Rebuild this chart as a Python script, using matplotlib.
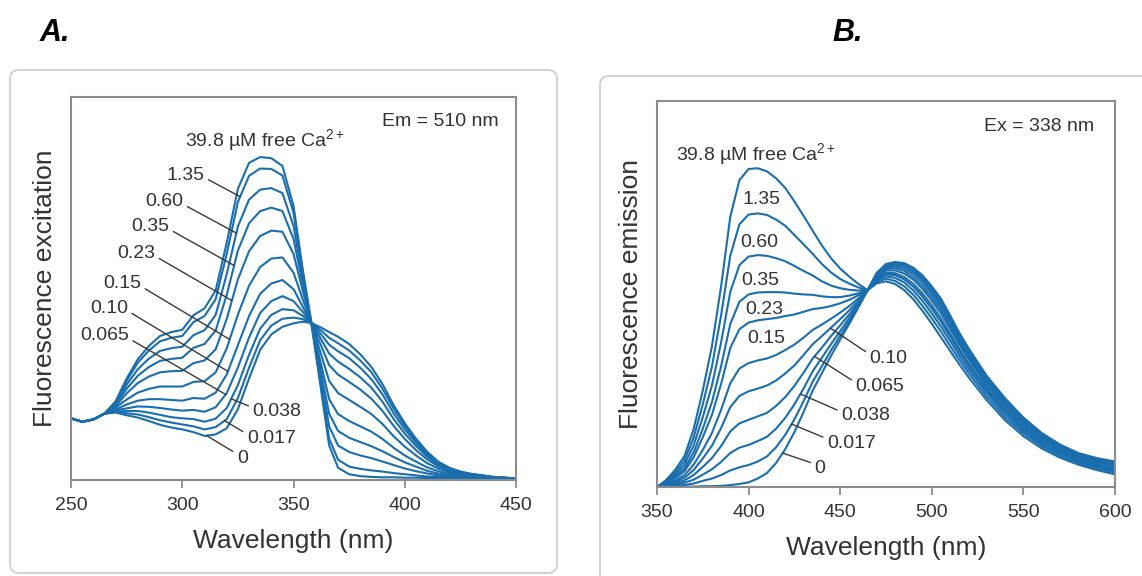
import matplotlib
matplotlib.use('Agg')
import matplotlib.pyplot as plt
import numpy as np
from matplotlib.patches import FancyBboxPatch
from matplotlib.transforms import IdentityTransform

plt.rcParams['font.family'] = ['Liberation Sans', 'DejaVu Sans']
plt.rcParams['mathtext.fontset'] = 'custom'
plt.rcParams['mathtext.rm'] = 'Liberation Sans'

BLUE = '#1a6eae'
TEXT = '#333333'
SPINE = '#8c8c8c'

# ---- Panel A: excitation spectra, Em = 510 nm ----
wl_a = [250, 255, 260, 265, 270, 275, 280, 285, 290, 295, 300, 305, 310, 315, 320,
        325, 330, 335, 340, 345, 350, 354, 358, 362, 366, 370, 375, 380, 385, 390,
        395, 400, 405, 410, 415, 420, 425, 430, 440, 450]

exc_398 = [16.1, 15.2, 15.8, 17.3, 20.5, 26.5, 31.5, 35.0, 37.6, 38.6, 39.2, 43.0, 44.8, 49.5, 62.0,
           76.0, 82.8, 84.3, 84.0, 82.0, 71.5, 55.5, 41.0, 25.0, 9.0, 3.2, 1.5, 1.0, 0.8, 0.7,
           0.7, 0.6, 0.6, 0.5, 0.5, 0.5, 0.4, 0.4, 0.3, 0.3]
exc_135 = [16.1, 15.2, 15.8, 17.3, 20.3, 25.9, 30.6, 33.8, 36.2, 37.1, 37.6, 41.2, 42.8, 47.2, 59.1,
           72.6, 79.4, 81.3, 81.2, 79.5, 69.7, 54.7, 41.0, 25.9, 10.8, 5.3, 3.5, 2.9, 2.5, 2.2,
           1.8, 1.5, 1.2, 0.9, 0.8, 0.7, 0.5, 0.5, 0.3, 0.3]
exc_060 = [16.1, 15.2, 15.8, 17.3, 20.0, 24.9, 28.9, 31.7, 33.7, 34.4, 34.8, 37.8, 39.1, 43.1, 53.8,
           66.2, 73.2, 75.8, 76.2, 74.9, 66.3, 53.1, 41.0, 27.5, 14.0, 9.0, 7.3, 6.4, 5.7, 4.8,
           3.9, 3.0, 2.3, 1.7, 1.2, 1.0, 0.7, 0.6, 0.4, 0.3]
exc_035 = [16.1, 15.2, 15.8, 17.3, 19.7, 23.8, 27.2, 29.5, 31.1, 31.6, 31.9, 34.5, 35.5, 39.0, 48.4,
           59.9, 67.0, 70.2, 71.1, 70.2, 62.9, 51.5, 41.0, 29.2, 17.3, 12.8, 11.0, 9.9, 8.8, 7.5,
           6.0, 4.6, 3.5, 2.4, 1.7, 1.3, 0.9, 0.7, 0.4, 0.3]
exc_023 = [16.1, 15.2, 15.8, 17.3, 19.3, 22.6, 25.3, 27.0, 28.1, 28.4, 28.5, 30.5, 31.2, 34.1, 42.1,
           52.4, 59.7, 63.7, 65.1, 64.8, 59.0, 49.7, 41.0, 31.1, 21.1, 17.2, 15.4, 14.0, 12.6, 10.7,
           8.4, 6.4, 4.8, 3.3, 2.3, 1.6, 1.1, 0.9, 0.5, 0.3]
exc_015 = [16.1, 15.2, 15.8, 17.3, 18.9, 21.0, 22.8, 23.8, 24.4, 24.4, 24.4, 25.6, 25.8, 28.1, 34.4,
           43.2, 50.7, 55.6, 57.8, 58.1, 54.1, 47.4, 41.0, 33.5, 25.9, 22.7, 20.9, 19.1, 17.2, 14.6,
           11.4, 8.7, 6.4, 4.4, 3.0, 2.0, 1.4, 1.1, 0.6, 0.4]
exc_010 = [16.1, 15.2, 15.8, 17.3, 18.4, 19.7, 20.7, 21.1, 21.1, 20.9, 20.7, 21.4, 21.2, 22.8, 27.6,
           35.2, 42.8, 48.6, 51.3, 52.2, 49.8, 45.4, 41.0, 35.6, 30.0, 27.5, 25.6, 23.6, 21.2, 18.0,
           14.1, 10.7, 7.8, 5.4, 3.6, 2.4, 1.7, 1.3, 0.7, 0.4]
exc_0065 = [16.1, 15.2, 15.8, 17.3, 18.2, 18.7, 19.2, 19.1, 18.8, 18.4, 18.1, 18.3, 17.8, 19.0, 22.7,
            29.4, 37.2, 43.6, 46.7, 48.0, 46.7, 44.0, 41.0, 37.1, 33.0, 30.9, 29.0, 26.8, 24.1, 20.4,
            15.9, 12.1, 8.9, 6.1, 4.0, 2.7, 1.9, 1.4, 0.7, 0.4]
exc_0038 = [16.1, 15.2, 15.8, 17.3, 17.9, 18.0, 18.0, 17.6, 17.0, 16.4, 16.1, 15.9, 15.2, 16.0, 18.8,
            24.8, 32.7, 39.5, 43.1, 44.6, 44.3, 42.9, 41.0, 38.3, 35.3, 33.6, 31.8, 29.3, 26.3, 22.3,
            17.4, 13.2, 9.7, 6.6, 4.3, 2.9, 2.0, 1.5, 0.7, 0.4]
exc_0017 = [16.1, 15.2, 15.8, 17.3, 17.8, 17.4, 17.1, 16.4, 15.6, 15.0, 14.5, 14.0, 13.2, 13.8, 15.9,
            21.4, 29.3, 36.5, 40.3, 42.1, 42.4, 42.0, 41.0, 39.2, 37.1, 35.7, 33.8, 31.2, 28.1, 23.8,
            18.6, 14.1, 10.3, 7.1, 4.6, 3.1, 2.1, 1.5, 0.8, 0.4]
exc_0 = [16.1, 15.2, 15.8, 17.3, 17.6, 16.9, 16.3, 15.4, 14.4, 13.7, 13.2, 12.5, 11.5, 11.9, 13.5,
         18.5, 26.5, 34.0, 38.0, 40.0, 40.9, 41.3, 41.0, 39.9, 38.6, 37.4, 35.5, 32.8, 29.5, 25.0,
         19.5, 14.8, 10.8, 7.4, 4.8, 3.2, 2.2, 1.6, 0.8, 0.4]

# ---- Panel B: emission spectra, Ex = 338 nm ----
wl_b = [350, 355, 360, 365, 370, 375, 380, 385, 390, 395, 400, 405, 410, 415, 420,
        425, 430, 435, 440, 445, 450, 455, 460, 465, 470, 475, 480, 485, 490, 495,
        500, 505, 510, 515, 520, 530, 540, 550, 560, 570, 580, 590, 600]

em_398 = [0.0, 1.8, 4.5, 8.0, 15.0, 25.0, 36.5, 52.0, 70.0, 79.5, 82.4, 82.6, 81.8, 80.0, 77.5,
          74.0, 70.3, 66.4, 62.6, 59.3, 56.6, 54.5, 52.6, 51.0, 52.8, 53.3, 52.6, 51.0, 48.6, 45.6,
          42.3, 38.8, 35.3, 31.8, 28.5, 22.5, 17.3, 13.2, 10.0, 7.6, 5.8, 4.4, 3.3]
em_135 = [0.0, 1.5, 3.8, 6.9, 12.8, 21.4, 31.2, 44.5, 59.9, 68.1, 70.6, 70.9, 70.5, 69.3, 67.7,
          65.3, 62.9, 60.4, 57.8, 55.6, 53.9, 52.7, 51.7, 51.0, 53.2, 54.0, 53.4, 52.0, 49.8, 46.9,
          43.7, 40.3, 36.6, 33.0, 29.6, 23.4, 18.1, 13.9, 10.6, 8.1, 6.2, 4.9, 3.8]
em_060 = [0.0, 1.3, 3.2, 5.8, 10.8, 18.1, 26.3, 37.5, 50.5, 57.5, 59.7, 60.1, 59.9, 59.3, 58.5,
          57.3, 56.0, 54.8, 53.3, 52.2, 51.5, 51.1, 50.9, 51.0, 53.6, 54.6, 54.2, 53.0, 50.9, 48.2,
          45.0, 41.6, 37.9, 34.1, 30.6, 24.3, 18.9, 14.5, 11.1, 8.6, 6.6, 5.3, 4.2]
em_035 = [0.0, 1.1, 2.7, 4.8, 9.0, 15.1, 22.0, 31.3, 42.2, 48.0, 49.9, 50.4, 50.5, 50.5, 50.4,
          50.1, 49.9, 49.8, 49.4, 49.2, 49.2, 49.6, 50.2, 51.0, 53.9, 55.1, 54.9, 53.8, 51.9, 49.3,
          46.2, 42.8, 39.0, 35.1, 31.5, 25.0, 19.6, 15.1, 11.6, 9.0, 7.0, 5.6, 4.6]
em_023 = [0.0, 0.9, 2.3, 4.1, 7.7, 12.9, 18.7, 26.7, 36.0, 40.9, 42.6, 43.2, 43.5, 43.8, 44.3,
          44.7, 45.4, 46.1, 46.4, 46.9, 47.6, 48.5, 49.7, 51.0, 54.1, 55.5, 55.4, 54.4, 52.6, 50.1,
          47.1, 43.7, 39.8, 35.8, 32.2, 25.6, 20.1, 15.6, 12.0, 9.3, 7.3, 5.9, 4.9]
em_015 = [0.0, 0.7, 1.7, 3.1, 5.8, 9.6, 14.0, 20.0, 26.9, 30.7, 32.1, 32.8, 33.3, 34.2, 35.5,
          36.9, 38.7, 40.7, 42.1, 43.6, 45.2, 46.9, 48.9, 51.0, 54.5, 56.1, 56.1, 55.3, 53.7, 51.3,
          48.3, 45.0, 41.0, 36.9, 33.2, 26.4, 20.8, 16.2, 12.5, 9.7, 7.7, 6.3, 5.4]
em_010 = [0.0, 0.5, 1.3, 2.4, 4.4, 7.4, 10.7, 15.3, 20.7, 23.6, 24.8, 25.5, 26.3, 27.6, 29.4,
          31.5, 34.2, 37.0, 39.1, 41.3, 43.5, 45.8, 48.3, 51.0, 54.7, 56.5, 56.7, 56.0, 54.4, 52.1,
          49.2, 45.9, 41.8, 37.6, 33.8, 27.0, 21.4, 16.6, 12.8, 10.0, 7.9, 6.6, 5.6]
em_0065 = [0.0, 0.4, 0.9, 1.7, 3.1, 5.2, 7.5, 10.6, 14.4, 16.5, 17.4, 18.3, 19.2, 21.0, 23.3,
           26.2, 29.6, 33.3, 36.1, 39.1, 41.9, 44.7, 47.8, 51.0, 55.0, 56.9, 57.2, 56.6, 55.2, 53.0,
           50.1, 46.8, 42.7, 38.4, 34.5, 27.5, 21.9, 17.0, 13.2, 10.3, 8.2, 6.9, 5.9]
em_0038 = [0.0, 0.2, 0.5, 1.1, 1.9, 3.2, 4.6, 6.5, 8.8, 10.2, 10.9, 11.9, 13.0, 15.1, 17.9,
           21.4, 25.5, 30.0, 33.5, 37.0, 40.4, 43.8, 47.3, 51.0, 55.2, 57.3, 57.6, 57.2, 55.8, 53.7,
           50.8, 47.6, 43.4, 39.0, 35.1, 28.0, 22.3, 17.4, 13.5, 10.6, 8.4, 7.1, 6.2]
em_0017 = [0.0, 0.1, 0.2, 0.5, 0.9, 1.6, 2.2, 3.1, 4.3, 5.1, 5.7, 6.6, 7.9, 10.3, 13.5,
           17.5, 22.2, 27.3, 31.3, 35.4, 39.2, 43.0, 46.9, 51.0, 55.4, 57.6, 58.0, 57.6, 56.4, 54.3,
           51.5, 48.3, 44.0, 39.6, 35.6, 28.5, 22.7, 17.7, 13.8, 10.8, 8.6, 7.3, 6.4]
em_0 = [0.0, 0.0, 0.0, 0.1, 0.1, 0.2, 0.2, 0.3, 0.5, 0.8, 1.2, 2.2, 3.6, 6.2, 9.8,
        14.2, 19.4, 25.0, 29.5, 34.0, 38.2, 42.3, 46.6, 51.0, 55.5, 57.8, 58.3, 58.0, 56.8, 54.8,
        52.0, 48.8, 44.5, 40.0, 36.0, 28.8, 23.0, 18.0, 14.0, 11.0, 8.8, 7.5, 6.6]

ca_labels = ['39.8', '1.35', '0.60', '0.35', '0.23', '0.15', '0.10', '0.065', '0.038', '0.017', '0']
exc_curves = [exc_398, exc_135, exc_060, exc_035, exc_023, exc_015, exc_010,
              exc_0065, exc_0038, exc_0017, exc_0]
em_curves = [em_398, em_135, em_060, em_035, em_023, em_015, em_010,
             em_0065, em_0038, em_0017, em_0]

# label layout: text position, alignment, wavelength where the leader meets its curve
layout_a = {
    '1.35': (310.0, 79.6, 'right', 326.0),
    '0.60': (300.5, 72.6, 'right', 324.3),
    '0.35': (294.2, 66.1, 'right', 323.3),
    '0.23': (287.8, 59.1, 'right', 322.3),
    '0.15': (281.5, 51.2, 'right', 321.3),
    '0.10': (275.5, 44.8, 'right', 320.5),
    '0.065': (276.0, 37.6, 'right', 319.5),
    '0.038': (331.5, 17.8, 'left', 322.0),
    '0.017': (329.0, 10.9, 'left', 319.0),
    '0': (324.5, 5.7, 'left', 311.0),
}
layout_b = {
    '1.35': (407.0, 74.6, 'center', None),
    '0.60': (406.0, 63.4, 'center', None),
    '0.35': (406.5, 53.5, 'center', None),
    '0.23': (408.4, 46.0, 'center', None),
    '0.15': (409.4, 38.5, 'center', None),
    '0.10': (466.0, 33.3, 'left', 444.7),
    '0.065': (458.3, 26.0, 'left', 436.0),
    '0.038': (450.5, 18.4, 'left', 428.3),
    '0.017': (442.8, 11.4, 'left', 423.5),
    '0': (436.0, 4.9, 'left', 418.6),
}

fig = plt.figure(figsize=(11.42, 5.76), dpi=100)

# rounded panel frames (pixel coordinates)
for x0, y0, w, h in [(10, 3, 547, 503), (600, -20, 560, 520)]:
    fig.add_artist(FancyBboxPatch((x0, y0), w, h, boxstyle='round,pad=0,rounding_size=9',
                                  transform=IdentityTransform(), facecolor='none',
                                  edgecolor='#d4d4d4', lw=1.5, zorder=0))

fig.text(0.048, 0.943, 'A.', fontsize=22, fontweight='bold', fontstyle='italic',
         ha='center', va='center', color='black')
fig.text(0.742, 0.943, 'B.', fontsize=22, fontweight='bold', fontstyle='italic',
         ha='center', va='center', color='black')

ax_a = fig.add_axes([0.0622, 0.1667, 0.3897, 0.665])
ax_b = fig.add_axes([0.5753, 0.1545, 0.401, 0.670])


def draw_panel(ax, wl, curves, layout, xlim, xticks, ylabel, cond, top_label_x):
    for c in curves:
        ax.plot(wl, c, color=BLUE, lw=1.5, solid_joinstyle='round', solid_capstyle='round')
    for lab, c in zip(ca_labels, curves):
        if lab not in layout:
            continue
        tx, ty, ha, target = layout[lab]
        if target is None:
            ax.text(tx, ty, lab, ha=ha, va='center', fontsize=14, color=TEXT)
        else:
            rel = (1.0, 0.35) if ha == 'right' else (0.0, 0.75)
            ax.annotate(lab, xy=(target, np.interp(target, wl, c)), xytext=(tx, ty),
                        ha=ha, va='center', fontsize=14, color=TEXT,
                        arrowprops=dict(arrowstyle='-', color='#3a3a3a', lw=1.0,
                                        relpos=rel, shrinkA=1, shrinkB=0))
    ax.text(top_label_x[0], top_label_x[1], r'39.8 µM free Ca$^{2+}$', ha='left', va='center',
            fontsize=14, color=TEXT)
    ax.text(cond[0], cond[1], cond[2], ha='right', va='center', fontsize=14, color=TEXT)
    ax.set_xlim(*xlim)
    ax.set_ylim(0, 100)
    ax.set_xticks(xticks)
    ax.set_yticks([])
    ax.tick_params(axis='x', direction='out', length=6, width=1.3, color=SPINE,
                   labelsize=14, labelcolor=TEXT, pad=6)
    for s in ax.spines.values():
        s.set_color(SPINE)
        s.set_linewidth(1.5)
    ax.set_xlabel('Wavelength (nm)', fontsize=19, color=TEXT, labelpad=11)
    ax.set_ylabel(ylabel, fontsize=19, color=TEXT, labelpad=10)


draw_panel(ax_a, wl_a, exc_curves, layout_a, (250, 450), [250, 300, 350, 400, 450],
           'Fluorescence excitation', (442, 93.5, 'Em = 510 nm'), (301, 88.7))
draw_panel(ax_b, wl_b, em_curves, layout_b, (350, 600), [350, 400, 450, 500, 550, 600],
           'Fluorescence emission', (588.8, 93.5, 'Ex = 338 nm'), (360.6, 86.2))

fig.savefig('out.png', dpi=100)
